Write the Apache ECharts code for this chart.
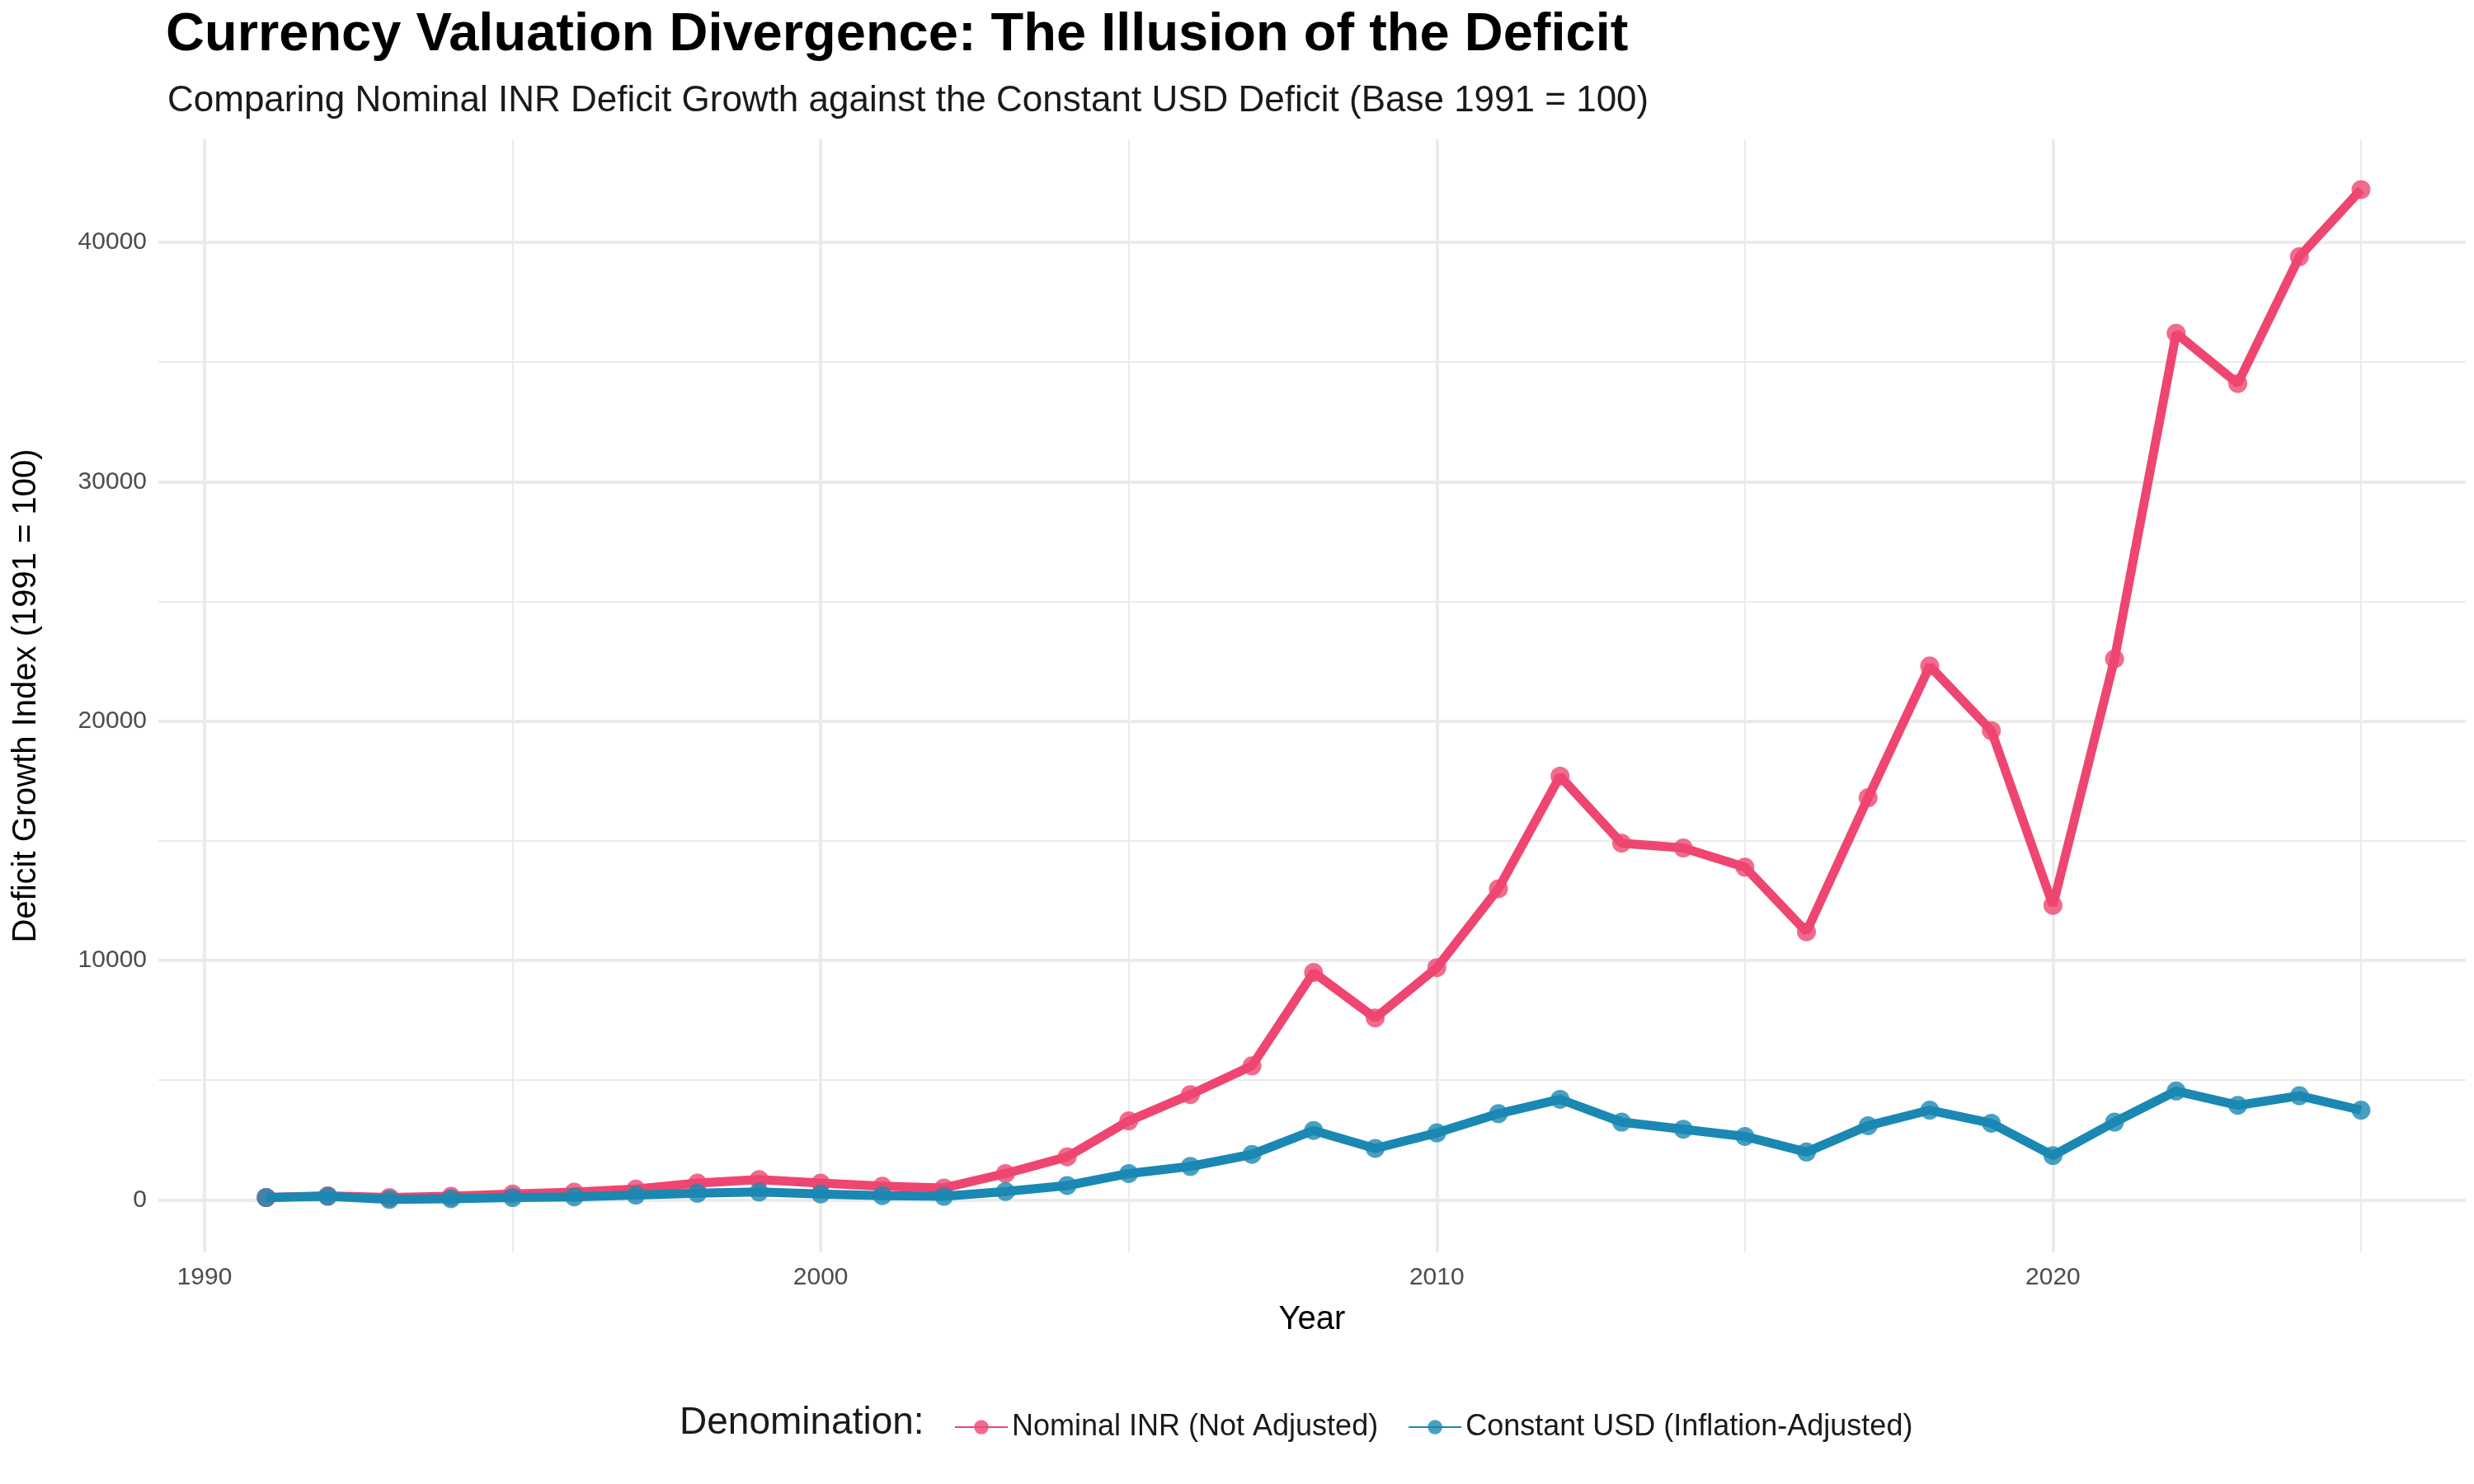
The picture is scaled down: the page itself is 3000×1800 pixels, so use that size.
<!DOCTYPE html>
<html><head><meta charset="utf-8">
<script src="https://cdn.jsdelivr.net/npm/echarts@6/dist/echarts.min.js"></script>
<style>html,body{margin:0;background:#fff}#c{width:3000px;height:1800px}</style>
</head><body><div id="c"></div>
<script>
const years = [];
for (let y = 1991; y <= 2025; y++) years.push(y);
const nominalINR = [100,170,100,150,250,320,450,700,850,700,570,500,1100,1800,3300,4400,5600,9500,7600,9700,13000,17700,14900,14700,13900,11200,16800,22300,19600,12300,22600,36200,34100,39400,42200];
const constantUSD = [100,150,20,50,100,130,200,280,330,250,180,150,350,600,1100,1400,1900,2900,2150,2800,3600,4200,3250,2950,2650,2000,3100,3750,3200,1850,3250,4550,3950,4350,3750];
const yMajor = [0,10000,20000,30000,40000];
const yMinor = [5000,15000,25000,35000];
const xMajor = [1990,2000,2010,2020];
const xMinor = [1995,2005,2015,2025];

const pink = '#EE4670', blue = '#1A88B2';
const gridLines = (vals, key, w) => vals.map(v => ({[key]: v, lineStyle:{color:'#EBEBEB', width:w, type:'solid'}}));
const chart = echarts.init(document.getElementById('c'));
chart.setOption({
  backgroundColor:'#fff',
  animation:false,
  title:[
    {text:'Currency Valuation Divergence: The Illusion of the Deficit', left:196, top:6,
     textStyle:{fontFamily:'Liberation Sans', fontSize:65, fontWeight:'bold', color:'#000'}},
    {text:'Comparing Nominal INR Deficit Growth against the Constant USD Deficit (Base 1991 = 100)', left:198, top:96,
     textStyle:{fontFamily:'Liberation Sans', fontSize:44, fontWeight:'normal', color:'#1a1a1a'}}
  ],
  legend:{top:1708, left:1152, itemWidth:64, itemHeight:22, itemGap:36,
    textStyle:{fontFamily:'Liberation Sans', fontSize:36, color:'#1a1a1a'},
    data:['Nominal INR (Not Adjusted)','Constant USD (Inflation-Adjusted)']},
  graphic:[{type:'text', left:824, top:1703, style:{text:'Denomination:', font:'46px Liberation Sans', fill:'#1a1a1a'}}],
  grid:{left:192, right:10, top:169, bottom:281},
  xAxis:{type:'value', min:1989.25, max:2026.7, name:'Year', nameLocation:'middle', nameGap:62,
    nameTextStyle:{fontFamily:'Liberation Sans', fontSize:40, color:'#000'},
    axisLine:{show:false}, axisTick:{show:false}, splitLine:{show:false},
    axisLabel:{customValues:xMajor, fontFamily:'Liberation Sans', fontSize:30, color:'#4d4d4d', margin:16, formatter:v=>String(v)}},
  yAxis:{type:'value', min:-2190, max:44300, name:'Deficit Growth Index (1991 = 100)', nameLocation:'middle', nameGap:140, nameRotate:90,
    nameTextStyle:{fontFamily:'Liberation Sans', fontSize:40, color:'#000'},
    axisLine:{show:false}, axisTick:{show:false}, splitLine:{show:false},
    axisLabel:{customValues:yMajor, fontFamily:'Liberation Sans', fontSize:30, color:'#4d4d4d', margin:14, formatter:v=>String(v)}},
  series:[
    {type:'line', name:'grid', data:[], silent:true, zlevel:-1, z:0,
     markLine:{silent:true, symbol:'none', label:{show:false}, animation:false, z:0,
       data:[...gridLines(yMinor,'yAxis',2), ...gridLines(xMinor,'xAxis',2),
             ...gridLines(yMajor,'yAxis',4), ...gridLines(xMajor,'xAxis',4)]}},
    {type:'line', name:'Nominal INR (Not Adjusted)', data:years.map((y,i)=>[y,nominalINR[i]]),
     color:pink, lineStyle:{width:11, color:pink}, symbol:'circle', symbolSize:23,
     itemStyle:{color:pink, opacity:0.8}, z:3},
    {type:'line', name:'Constant USD (Inflation-Adjusted)', data:years.map((y,i)=>[y,constantUSD[i]]),
     color:blue, lineStyle:{width:11, color:blue}, symbol:'circle', symbolSize:23,
     itemStyle:{color:blue, opacity:0.8}, z:4}
  ]
});
</script></body></html>
